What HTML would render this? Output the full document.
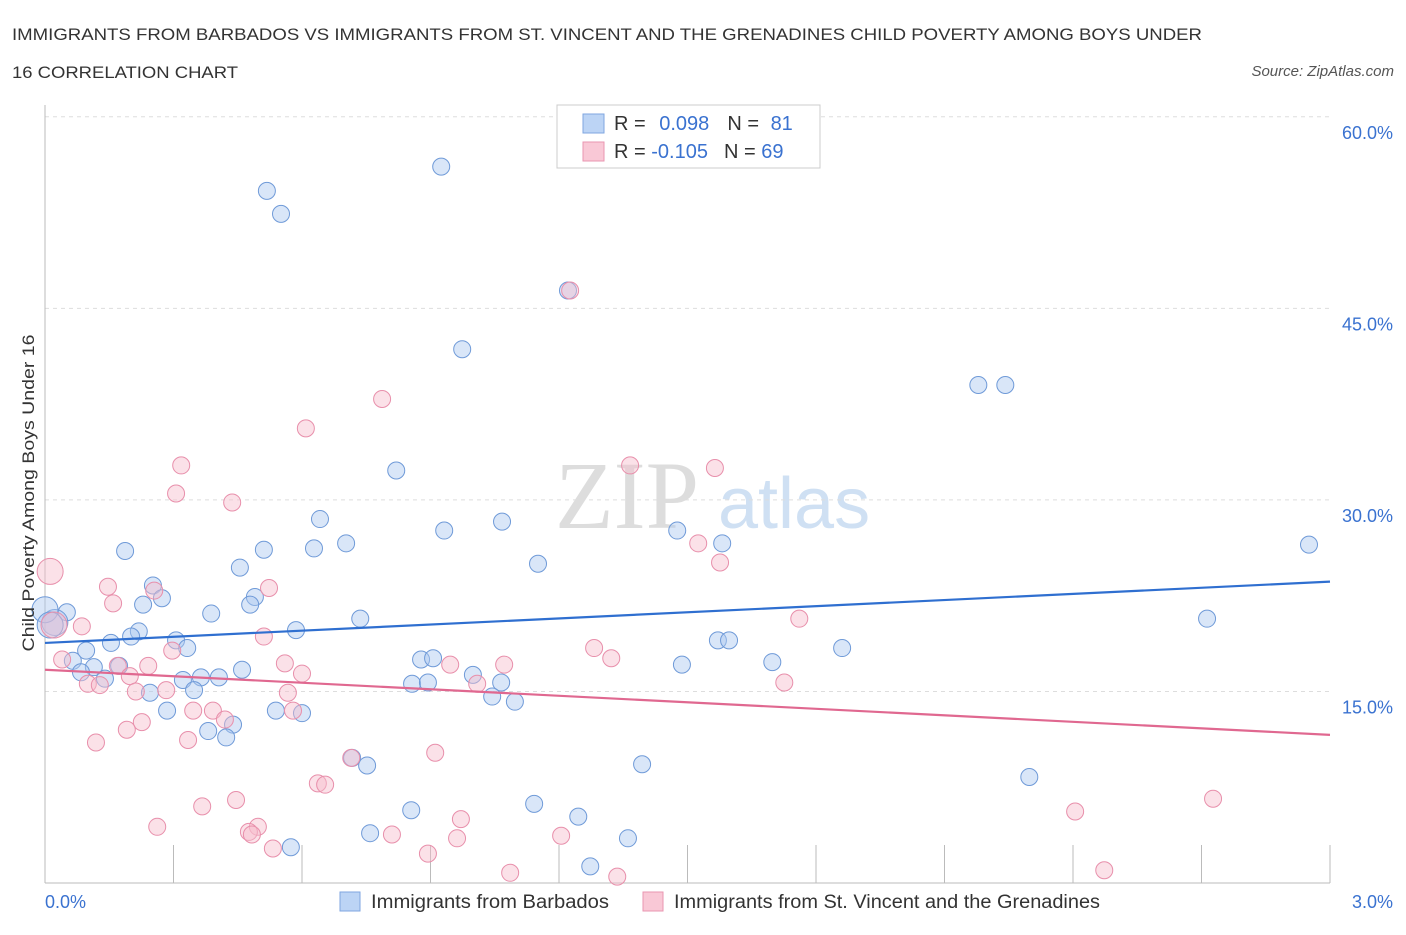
<!DOCTYPE html>
<html><head><meta charset="utf-8"><style>
body{margin:0;background:#fff;font-family:"Liberation Sans",sans-serif;}
</style></head><body>
<svg id="c" width="1406" height="930" xmlns="http://www.w3.org/2000/svg" style="font-family:'Liberation Sans',sans-serif">
<text x="12" y="40" font-size="17" fill="#333" textLength="1190" lengthAdjust="spacingAndGlyphs">IMMIGRANTS FROM BARBADOS VS IMMIGRANTS FROM ST. VINCENT AND THE GRENADINES CHILD POVERTY AMONG BOYS UNDER</text>
<text x="12" y="78" font-size="17" fill="#333" textLength="226" lengthAdjust="spacingAndGlyphs">16 CORRELATION CHART</text>
<text x="1394" y="76" font-size="15" fill="#555" font-style="italic" text-anchor="end">Source: ZipAtlas.com</text>
<text x="555" y="528" font-size="96" fill="#ddd" font-family="Liberation Serif">ZIP</text>
<text x="718" y="528" font-size="72" fill="#cfe0f3">atlas</text>
<g id="grid"></g><g id="axes"></g><g id="pts"></g><g id="trend"></g>
<text transform="translate(34,493) rotate(-90)" font-size="17" fill="#333" text-anchor="middle" textLength="317" lengthAdjust="spacingAndGlyphs">Child Poverty Among Boys Under 16</text>
<text x="45" y="908" font-size="18" fill="#3a72d0">0.0%</text>
<text x="1393" y="908" font-size="18" fill="#3a72d0" text-anchor="end">3.0%</text>
<g>
<rect x="557" y="105" width="263" height="63" fill="#fff" stroke="#ccc"/>
<rect x="583" y="114" width="21" height="19" fill="#bcd4f5" stroke="#7fa6e0"/>
<rect x="583" y="142" width="21" height="19" fill="#f9c8d6" stroke="#e996b0"/>
<text x="614" y="130" font-size="20" fill="#333">R = <tspan fill="#3a72d0" dx="8">0.098</tspan><tspan dx="18" fill="#333">N = </tspan><tspan fill="#3a72d0" dx="6">81</tspan></text>
<text x="614" y="158" font-size="20" fill="#333">R = <tspan fill="#3a72d0">-0.105</tspan><tspan dx="16" fill="#333">N = </tspan><tspan fill="#3a72d0">69</tspan></text>
</g>
<g>
<rect x="340" y="892" width="20" height="19" fill="#bcd4f5" stroke="#7fa6e0"/>
<text x="371" y="908" font-size="19" fill="#333" textLength="238" lengthAdjust="spacingAndGlyphs">Immigrants from Barbados</text>
<rect x="643" y="892" width="20" height="19" fill="#f9c8d6" stroke="#e996b0"/>
<text x="674" y="908" font-size="19" fill="#333" textLength="426" lengthAdjust="spacingAndGlyphs">Immigrants from St. Vincent and the Grenadines</text>
</g>
</svg>
<script>
const yTicks=[15,30,45,60];
const yTickLabels=["15.0%","30.0%","45.0%","60.0%"];
const xTicks=[0,0.3,0.6,0.9,1.2,1.5,1.8,2.1,2.4,2.7,3.0];
const blueX=[0.518,0.551,0.925,1.221,0.974,2.179,2.242,0.820,0.642,1.067,0.932,0.703,0.511,0.187,0.628,1.476,1.581,2.951,1.151,0.455,0.252,0.490,0.273,0.479,0.229,0.051,0.023,0.388,0.736,2.713,0.219,0.586,0.201,0.154,0.306,0.332,1.571,1.597,1.861,0.096,0.065,0.114,0.878,0.906,1.487,1.698,0.460,0.173,0.084,0.364,0.406,0.322,0.999,1.065,0.857,0.894,0.140,0.348,0.245,0.285,1.044,1.097,0.381,0.439,0.423,0.539,0.600,0.717,0.752,1.394,2.298,0.855,1.142,1.245,0.759,1.361,0.574,1.273,0.0,0.012];
const blueY=[54.2,52.4,56.1,46.4,41.8,39.0,39.0,32.3,28.5,28.3,27.6,26.6,26.1,26.0,26.2,27.6,26.6,26.5,25.0,24.7,23.3,22.4,22.3,21.8,21.8,21.2,20.4,21.1,20.7,20.7,19.7,19.8,19.3,18.8,19.0,18.4,19.0,19.0,18.4,18.2,17.4,16.9,17.5,17.6,17.1,17.3,16.7,17.0,16.5,16.1,16.1,15.9,16.3,15.7,15.6,15.7,16.0,15.1,14.9,13.5,14.6,14.2,11.9,12.4,11.4,13.5,13.3,9.8,9.2,9.3,8.3,5.7,6.2,5.2,3.9,3.5,2.8,1.3,21.4,20.2];
const pinkX=[1.226,0.787,0.609,0.318,1.366,1.564,0.306,0.437,1.525,1.576,0.012,0.147,0.523,0.255,0.159,1.761,0.021,0.086,0.511,1.282,1.322,0.297,0.040,0.560,0.241,0.170,0.946,1.072,0.600,0.198,0.100,0.128,1.726,1.009,0.212,0.283,0.567,0.346,0.392,0.579,0.226,0.420,0.191,0.119,0.334,0.715,0.911,0.637,0.654,0.446,0.367,0.497,2.405,2.727,0.262,0.476,0.483,0.971,0.810,0.962,1.205,0.532,0.894,1.086,1.336,2.473];
const pinkY=[46.4,37.9,35.6,32.7,32.7,32.5,30.5,29.8,26.6,25.1,24.4,23.2,23.1,22.9,21.9,20.7,20.2,20.1,19.3,18.4,17.6,18.2,17.5,17.2,17.0,17.0,17.1,17.1,16.4,16.2,15.6,15.5,15.7,15.6,15.0,15.1,14.9,13.5,13.5,13.5,12.6,12.8,12.0,11.0,11.2,9.8,10.2,7.8,7.7,6.5,6.0,4.4,5.6,6.6,4.4,4.0,3.8,5.0,3.8,3.5,3.7,2.7,2.3,0.8,0.5,1.0];
const blueTrend=[18.8,23.6];
const pinkTrend=[16.7,11.6];
const NS="http://www.w3.org/2000/svg";
const X=v=>45+v*428.33, Y=v=>883-v*12.77;
function mk(t,a,p){const e=document.createElementNS(NS,t);for(const k in a)e.setAttribute(k,a[k]);document.getElementById(p).appendChild(e);return e;}
yTicks.forEach((t,i)=>{
 const l=mk('line',{x1:45,x2:1330,y1:Y(t),y2:Y(t),stroke:'#ddd','stroke-dasharray':'4,4'},'grid');
 
 
 const tx=mk('text',{x:1393,y:Y(t)+22,'font-size':18,fill:'#3a72d0','text-anchor':'end'},'grid');
 tx.textContent=yTickLabels[i];
 
 
});
const ax=mk('line',{x1:45,x2:45,y1:105,y2:883,stroke:'#bbb'},'axes');


const bx=mk('line',{x1:45,x2:1330,y1:883,y2:883,stroke:'#bbb'},'axes');


xTicks.forEach(t=>{
 const l=mk('line',{x1:X(t),x2:X(t),y1:845,y2:883,stroke:'#bbb'},'axes');
 
 
});
function pts(xs,ys,fill,stroke,name){
 xs.forEach((x,i)=>{
  const big=x<0.025&&ys[i]>20;
  const c=mk('circle',{cx:X(x),cy:Y(ys[i]),r:big?13:8.5,fill:fill,'fill-opacity':0.45,stroke:stroke,'stroke-width':1},'pts');
  
  
 });
}
pts(blueX,blueY,'#aac7f0','#6f9ad8','point-barbados');
pts(pinkX,pinkY,'#f6bccd','#e88fab','point-st-vincent');
const t1=mk('line',{x1:X(0),y1:Y(blueTrend[0]),x2:X(3),y2:Y(blueTrend[1]),stroke:'#2f6fd0','stroke-width':2.2},'trend');


const t2=mk('line',{x1:X(0),y1:Y(pinkTrend[0]),x2:X(3),y2:Y(pinkTrend[1]),stroke:'#e06890','stroke-width':2.2},'trend');


</script>
</body></html>
